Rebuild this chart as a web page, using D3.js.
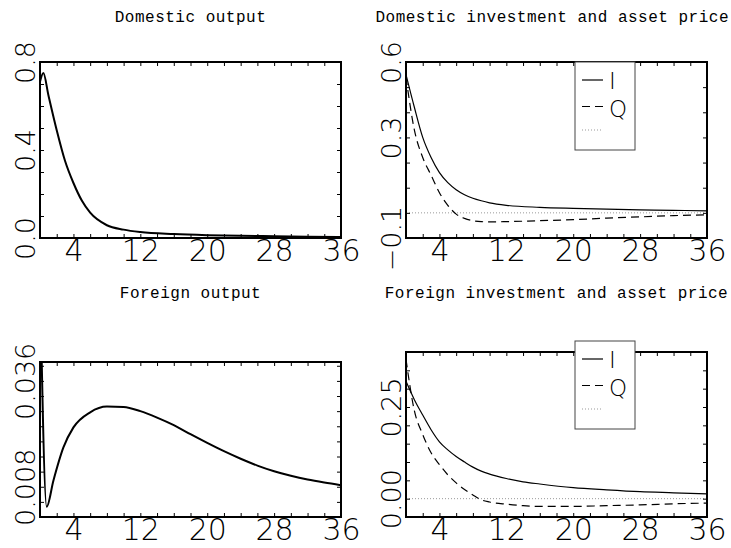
<!DOCTYPE html>
<html>
<head>
<meta charset="utf-8">
<script src="https://cdnjs.cloudflare.com/ajax/libs/d3/7.8.5/d3.min.js"></script>
<style>
  body { margin: 0; background: #fff; }
  svg { display: block; background: #fff; }
  text { font-family: "DejaVu Sans", sans-serif; font-weight: 200; fill: #000; }
  .title { font-family: "Liberation Mono", monospace; font-weight: 400; font-size: 16px; letter-spacing: 0.5px; }
  .xlabels text { font-size: 30px; }
  .ylabels text { font-size: 27px; }
  .legend text { font-size: 23px; }
</style>
</head>
<body>
<script>
// Data (quarters after the shock)
//=======================================
var titles = ["Domestic output", "Domestic investment and asset price",
              "Foreign output", "Foreign investment and asset price"];

var xTickVals = [4, 12, 20, 28, 36];
var xMinorTicks = [0, 2, 4, 6, 8, 10, 12, 14, 16, 18, 20, 22, 24, 26, 28, 30, 32, 34, 36];

// y tick labels as printed on each panel
var yTickVals1 = [0, 0.4, 0.8];
var yTickText1 = ["0.0", "0.4", "0.8"];
var yTickVals2 = [-0.1, 0.3, 0.6];
var yTickText2 = ["\u22120.1", "0.3", "0.6"];
var yTickVals3 = [0.008, 0.036];
var yTickText3 = ["0.008", "0.036"];
var yTickVals4 = [0, 0.25];
var yTickText4 = ["0.00", "0.25"];

// Domestic output
var domOutputT = [0, 0.4, 1, 2, 3, 4, 5, 6, 8, 10, 12, 16, 20, 24, 28, 32, 36];
var domOutput = [0.71, 0.75, 0.65, 0.49, 0.35, 0.25, 0.17, 0.115, 0.058, 0.038, 0.027,
                 0.018, 0.013, 0.010, 0.008, 0.006, 0.005];

// Domestic investment (I) and asset price (Q)
var domT = [0, 1, 2, 3, 4, 5, 6, 7, 8, 9, 10, 12, 16, 20, 24, 28, 32, 36];
var domI = [0.55, 0.42, 0.30, 0.22, 0.16, 0.12, 0.092, 0.072, 0.058, 0.048, 0.040,
            0.030, 0.022, 0.018, 0.015, 0.012, 0.010, 0.008];
var domQ = [0.54, 0.33, 0.22, 0.15, 0.08, 0.03, -0.005, -0.022, -0.031, -0.035, -0.036,
            -0.035, -0.031, -0.027, -0.021, -0.016, -0.011, -0.008];

// Foreign output
var forOutputT = [0, 0.8, 1.6, 2.8, 4, 6, 8, 10, 12, 14, 16, 18, 20, 22, 24, 26, 28, 30, 32, 34, 36];
var forOutput = [0.064, 0.0027, 0.0096, 0.0184, 0.0237, 0.0277, 0.0292, 0.0291, 0.0280,
                 0.0263, 0.0243, 0.0219, 0.0196, 0.0174, 0.0154, 0.0136, 0.0121, 0.0109,
                 0.0099, 0.0091, 0.0084];

// Foreign investment (I) and asset price (Q)
var forT = [0, 1, 2, 3, 4, 5, 6, 7, 8, 9, 10, 12, 14, 16, 20, 24, 28, 32, 36];
var forI = [0.32, 0.27, 0.228, 0.188, 0.155, 0.133, 0.115, 0.100, 0.086, 0.075, 0.067,
            0.055, 0.046, 0.040, 0.030, 0.024, 0.019, 0.016, 0.013];
var forQ = [0.38, 0.24, 0.175, 0.125, 0.093, 0.065, 0.043, 0.025, 0.010, -0.003, -0.009,
            -0.015, -0.019, -0.021, -0.021, -0.019, -0.017, -0.014, -0.012];

// Panel setup
//=======================================
var svgWidth = 731;
var svgHeight = 548;

var panels = [
  { title: titles[0], left: 40, right: 341, top: 62, bottom: 238, titleY: 22,
    yDomain: [0, 0.8], yStep: 0.1, yTickVals: yTickVals1, yTickText: yTickText1,
    series: [{ t: domOutputT, v: domOutput, width: 2 }] },
  { title: titles[1], left: 406, right: 707, top: 62, bottom: 238, titleY: 22,
    yDomain: [-0.1, 0.6], yStep: 0.1, yTickVals: yTickVals2, yTickText: yTickText2,
    zeroLine: true, legendTop: 62,
    series: [{ t: domT, v: domI, width: 1.2 }, { t: domT, v: domQ, width: 1.2, dash: "8,5" }] },
  { title: titles[2], left: 40, right: 341, top: 362, bottom: 517, titleY: 298,
    yDomain: [0, 0.041], yStep: 0.004, yTickVals: yTickVals3, yTickText: yTickText3,
    series: [{ t: forOutputT, v: forOutput, width: 2 }] },
  { title: titles[3], left: 406, right: 707, top: 352, bottom: 517, titleY: 298,
    yDomain: [-0.05, 0.40], yStep: 0.05, yTickVals: yTickVals4, yTickText: yTickText4,
    zeroLine: true, legendTop: 341,
    series: [{ t: forT, v: forI, width: 1.2 }, { t: forT, v: forQ, width: 1.2, dash: "8,5" }] }
];

var svg = d3.select("body")
  .append("svg")
  .attr("width", svgWidth)
  .attr("height", svgHeight);

function noDomain(sel) {
  sel.select(".domain").remove();
  sel.attr("font-size", null).attr("font-family", null);
}

panels.forEach(function(p, i) {
  var width = p.right - p.left;
  var height = p.bottom - p.top;

  var chartGroup = svg.append("g")
    .attr("transform", `translate(${p.left}, ${p.top})`);

  var xScale = d3.scaleLinear().domain([0, 36]).range([0, width]);
  var yScale = d3.scaleLinear().domain(p.yDomain).range([height, 0]);

  chartGroup.append("clipPath")
    .attr("id", "clip" + i)
    .append("rect")
    .attr("width", width)
    .attr("height", height);

  // dotted zero line
  if (p.zeroLine) {
    chartGroup.append("line")
      .attr("x1", 0).attr("x2", width)
      .attr("y1", yScale(0)).attr("y2", yScale(0))
      .attr("stroke", "#999")
      .attr("stroke-width", 1)
      .attr("stroke-dasharray", "1,2");
  }

  // curves
  var line = d3.line()
    .x(d => xScale(d[0]))
    .y(d => yScale(d[1]))
    .curve(d3.curveMonotoneX);

  p.series.forEach(function(s) {
    chartGroup.append("path")
      .datum(d3.zip(s.t, s.v))
      .attr("clip-path", `url(#clip${i})`)
      .attr("d", line)
      .attr("fill", "none")
      .attr("stroke", "#000")
      .attr("stroke-width", s.width)
      .attr("stroke-dasharray", s.dash || null);
  });

  // inward ticks on all four sides
  var yMinor = d3.range(p.yDomain[0], p.yDomain[1] + 1e-9, p.yStep);
  chartGroup.append("g")
    .attr("transform", `translate(0, ${height})`)
    .call(d3.axisBottom(xScale).tickValues(xMinorTicks).tickSize(-4).tickFormat(""))
    .call(noDomain);
  chartGroup.append("g")
    .call(d3.axisTop(xScale).tickValues(xMinorTicks).tickSize(-4).tickFormat(""))
    .call(noDomain);
  chartGroup.append("g")
    .call(d3.axisLeft(yScale).tickValues(yMinor).tickSize(-4).tickFormat(""))
    .call(noDomain);
  chartGroup.append("g")
    .attr("transform", `translate(${width}, 0)`)
    .call(d3.axisRight(yScale).tickValues(yMinor).tickSize(-4).tickFormat(""))
    .call(noDomain);
  chartGroup.selectAll(".tick line").attr("stroke", "#000").attr("stroke-width", 1);

  // frame
  chartGroup.append("rect")
    .attr("width", width)
    .attr("height", height)
    .attr("fill", "none")
    .attr("stroke", "#000")
    .attr("stroke-width", 2);

  // x labels
  chartGroup.append("g")
    .attr("class", "xlabels")
    .attr("transform", `translate(0, ${height})`)
    .call(d3.axisBottom(xScale).tickValues(xTickVals).tickSize(0).tickPadding(2))
    .call(noDomain);

  // rotated y labels
  chartGroup.append("g")
    .attr("class", "ylabels")
    .call(d3.axisLeft(yScale).tickValues(p.yTickVals).tickSize(0)
      .tickFormat((d, k) => p.yTickText[k]))
    .call(noDomain)
    .selectAll("text")
    .attr("transform", "rotate(-90)")
    .attr("x", 0)
    .attr("y", -5)
    .attr("dy", null)
    .style("text-anchor", "middle");

  // title
  var title = svg.append("text")
    .attr("class", "title")
    .attr("y", p.titleY)
    .style("text-anchor", "middle")
    .text(p.title);
  var tw = title.node().getComputedTextLength();
  title.attr("x", Math.min((p.left + p.right) / 2, svgWidth - 2 - tw / 2));

  // legend
  if (p.legendTop !== undefined) {
    var legend = svg.append("g")
      .attr("class", "legend")
      .attr("transform", `translate(${p.left + 169}, ${p.legendTop})`);
    legend.append("rect")
      .attr("width", 60)
      .attr("height", 88)
      .attr("fill", "#fff")
      .attr("stroke", "#444")
      .attr("stroke-width", 1);
    var items = [
      { y: 18, dash: null, color: "#000", label: "I", ly: 27 },
      { y: 44.5, dash: "8,5", color: "#000", label: "Q", ly: 54.5 },
      { y: 68, dash: "1,2", color: "#999", label: "", ly: 0 }
    ];
    items.forEach(function(it) {
      legend.append("line")
        .attr("x1", 7).attr("x2", 28)
        .attr("y1", it.y).attr("y2", it.y)
        .attr("stroke", it.color)
        .attr("stroke-width", 1.2)
        .attr("stroke-dasharray", it.dash);
      if (it.label) {
        legend.append("text")
          .attr("x", 34)
          .attr("y", it.ly)
          .text(it.label);
      }
    });
  }
});
</script>
</body>
</html>
